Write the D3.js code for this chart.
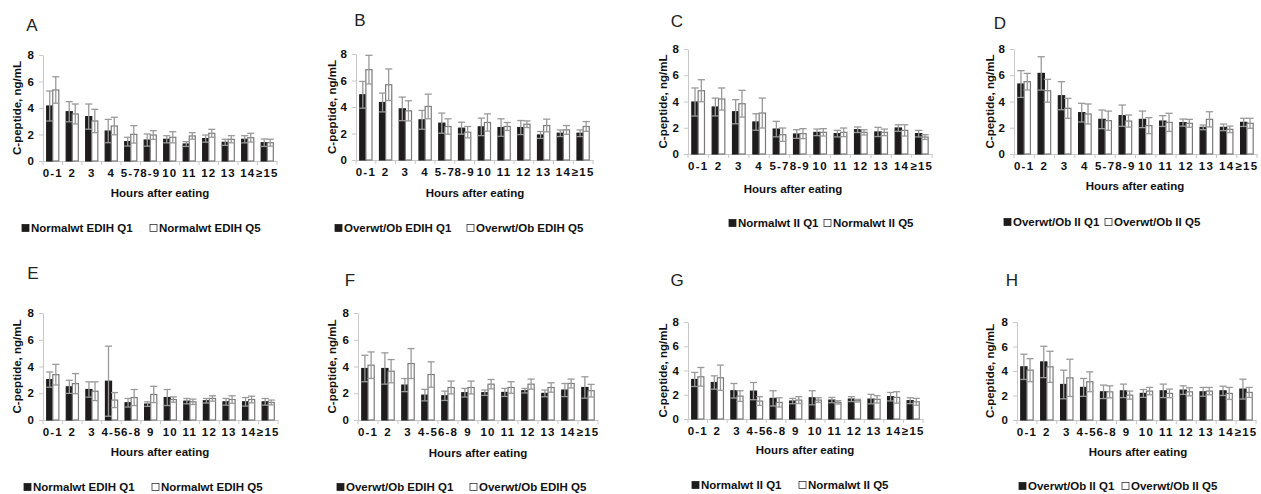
<!DOCTYPE html>
<html>
<head>
<meta charset="utf-8">
<script src="https://cdnjs.cloudflare.com/ajax/libs/d3/7.8.5/d3.min.js"></script>
<style>
  body { margin: 0; background: #fff; }
  svg { font-family: "Liberation Sans", Arial, sans-serif; }
  .tick text { font-weight: bold; font-size: 11.5px; fill: #111; }
</style>
</head>
<body>
<svg id="chart" width="1261" height="494"></svg>
<script>
// categories (top row panels A-D, bottom row panels E-H)
var catsTop = ["0-1", "2", "3", "4", "5-7", "8-9", "10", "11", "12", "13", "14", "\u226515"];
var catsBottom = ["0-1", "2", "3", "4-5", "6-8", "9", "10", "11", "12", "13", "14", "\u226515"];
var yTicks = [0, 2, 4, 6, 8];

// C-peptide means and error (ng/mL)
var aQ1 = [4.15, 3.72, 3.35, 2.26, 1.46, 1.58, 1.64, 1.28, 1.69, 1.41, 1.64, 1.38];
var aQ1e = [1.13, 0.76, 0.95, 0.88, 0.33, 0.46, 0.27, 0.18, 0.27, 0.23, 0.27, 0.28];
var aQ5 = [5.36, 3.55, 3.02, 2.64, 2.01, 1.96, 1.79, 1.89, 2.09, 1.64, 1.76, 1.38];
var aQ5e = [1.00, 0.75, 0.88, 0.66, 0.66, 0.33, 0.42, 0.25, 0.30, 0.27, 0.33, 0.26];

var bQ1 = [4.92, 4.34, 3.86, 3.03, 2.78, 2.40, 2.50, 2.45, 2.45, 1.89, 2.02, 2.02];
var bQ1e = [1.01, 0.71, 0.89, 0.71, 0.76, 0.45, 0.66, 0.66, 0.53, 0.26, 0.25, 0.25];
var bQ5 = [6.82, 5.68, 3.71, 4.04, 2.53, 2.10, 2.83, 2.53, 2.70, 2.60, 2.27, 2.53];
var bQ5e = [1.08, 1.19, 0.76, 0.93, 0.58, 0.43, 0.65, 0.30, 0.25, 0.48, 0.33, 0.37];

var cQ1 = [3.96, 3.58, 3.22, 2.44, 1.90, 1.52, 1.65, 1.55, 1.85, 1.68, 1.98, 1.55];
var cQ1e = [1.07, 0.68, 0.92, 0.63, 0.59, 0.33, 0.25, 0.25, 0.21, 0.35, 0.25, 0.25];
var cQ5 = [4.82, 4.19, 3.83, 3.12, 1.47, 1.55, 1.65, 1.65, 1.65, 1.65, 1.80, 1.29];
var cQ5e = [0.84, 0.84, 1.02, 1.14, 0.51, 0.38, 0.28, 0.33, 0.20, 0.25, 0.43, 0.18];

var dQ1 = [5.33, 6.14, 4.44, 3.15, 2.64, 2.92, 2.64, 2.51, 2.39, 2.03, 2.03, 2.41];
var dQ1e = [1.02, 1.27, 1.07, 0.71, 0.71, 0.81, 0.63, 0.41, 0.27, 0.18, 0.25, 0.31];
var dQ5 = [5.51, 4.82, 3.48, 3.05, 2.54, 2.51, 2.16, 2.41, 2.34, 2.64, 1.88, 2.34];
var dQ5e = [0.63, 0.87, 0.76, 0.76, 0.73, 0.46, 0.61, 0.69, 0.30, 0.58, 0.25, 0.38];

var eQ1 = [3.02, 2.48, 2.28, 2.90, 1.29, 1.19, 1.68, 1.41, 1.44, 1.36, 1.36, 1.36];
var eQ1e = [0.57, 0.49, 0.57, 2.62, 0.32, 0.17, 0.60, 0.20, 0.17, 0.25, 0.32, 0.25];
var eQ5 = [3.39, 2.72, 2.15, 1.49, 1.68, 1.91, 1.53, 1.36, 1.61, 1.53, 1.53, 1.31];
var eQ5e = [0.77, 0.75, 0.70, 0.56, 0.60, 0.61, 0.20, 0.20, 0.20, 0.28, 0.25, 0.18];

var fQ1 = [3.85, 3.85, 2.61, 1.86, 1.81, 2.04, 2.04, 2.06, 2.19, 1.99, 2.24, 2.43];
var fQ1e = [0.99, 1.17, 0.49, 0.43, 0.35, 0.32, 0.20, 0.30, 0.17, 0.25, 0.49, 0.80];
var fQ5 = [4.10, 3.65, 4.22, 3.40, 2.43, 2.43, 2.68, 2.43, 2.68, 2.43, 2.73, 2.19];
var fQ5e = [0.99, 0.87, 1.12, 0.95, 0.48, 0.48, 0.35, 0.43, 0.38, 0.35, 0.33, 0.47];

var gQ1 = [3.26, 3.01, 2.33, 2.30, 1.70, 1.48, 1.75, 1.56, 1.64, 1.64, 1.84, 1.51];
var gQ1e = [0.58, 0.55, 0.60, 0.71, 0.63, 0.22, 0.58, 0.22, 0.20, 0.39, 0.35, 0.24];
var gQ5 = [3.48, 3.40, 1.89, 1.48, 1.37, 1.56, 1.56, 1.37, 1.51, 1.62, 1.78, 1.42];
var gQ5e = [0.77, 1.04, 0.44, 0.36, 0.38, 0.28, 0.19, 0.14, 0.11, 0.30, 0.47, 0.28];

var hQ1 = [4.34, 4.74, 2.90, 2.66, 2.30, 2.38, 2.17, 2.38, 2.44, 2.30, 2.38, 2.52];
var hQ1e = [1.03, 1.28, 1.17, 0.73, 0.55, 0.55, 0.32, 0.55, 0.35, 0.36, 0.38, 0.81];
var hQ5 = [4.07, 4.34, 3.44, 3.12, 2.30, 2.03, 2.36, 2.17, 2.30, 2.36, 2.17, 2.25];
var hQ5e = [0.94, 1.27, 1.52, 0.81, 0.49, 0.33, 0.30, 0.35, 0.33, 0.30, 0.49, 0.41];

var legEDIHnorm = ["Normalwt EDIH Q1", "Normalwt EDIH Q5"];
var legEDIHover = ["Overwt/Ob EDIH Q1", "Overwt/Ob EDIH Q5"];
var legIInorm = ["Normalwt II Q1", "Normalwt II Q5"];
var legIIover = ["Overwt/Ob II Q1", "Overwt/Ob II Q5"];

// panel layout (page pixels)
var panels = [
  {id:"A", cats:catsTop, q1:aQ1, q1e:aQ1e, q5:aQ5, q5e:aQ5e, leg:legEDIHnorm,
   x0:43, x1:277, y0:161, y8:55, lx:32, ly:25, yt:17, xtx:160, xty:193, legY:228, l1:25, l2:153},
  {id:"B", cats:catsTop, q1:bQ1, q1e:bQ1e, q5:bQ5, q5e:bQ5e, leg:legEDIHover,
   x0:356, x1:593, y0:160, y8:54, lx:360, ly:20, yt:332, xtx:475, xty:193, legY:228, l1:338, l2:470},
  {id:"C", cats:catsTop, q1:cQ1, q1e:cQ1e, q5:cQ5, q5e:cQ5e, leg:legIInorm,
   x0:688, x1:932, y0:154, y8:49, lx:677, ly:21, yt:663, xtx:793, xty:189, legY:223, l1:732, l2:827},
  {id:"D", cats:catsTop, q1:dQ1, q1e:dQ1e, q5:dQ5, q5e:dQ5e, leg:legIIover,
   x0:1014, x1:1257, y0:154, y8:49, lx:1000, ly:23, yt:990, xtx:1135, xty:186, legY:222, l1:1007, l2:1108},
  {id:"E", cats:catsBottom, q1:eQ1, q1e:eQ1e, q5:eQ5, q5e:eQ5e, leg:legEDIHnorm,
   x0:43, x1:278, y0:420, y8:313, lx:33, ly:273, yt:17, xtx:160, xty:452, legY:487, l1:27, l2:155},
  {id:"F", cats:catsBottom, q1:fQ1, q1e:fQ1e, q5:fQ5, q5e:fQ5e, leg:legEDIHover,
   x0:358, x1:598, y0:420, y8:313, lx:350, ly:280, yt:332, xtx:478, xty:453, legY:487, l1:340, l2:473},
  {id:"G", cats:catsBottom, q1:gQ1, q1e:gQ1e, q5:gQ5, q5e:gQ5e, leg:legIInorm,
   x0:688, x1:923, y0:419, y8:322, lx:677, ly:280, yt:663, xtx:805, xty:450, legY:485, l1:695, l2:802},
  {id:"H", cats:catsBottom, q1:hQ1, q1e:hQ1e, q5:hQ5, q5e:hQ5e, leg:legIIover,
   x0:1017, x1:1256, y0:420, y8:322, lx:1012, ly:280, yt:990, xtx:1138, xty:452, legY:486, l1:1022, l2:1125}
];

var svg = d3.select("#chart");
var axisGrey = "#c8c8c8", errGrey = "#9a9a9a";

panels.forEach(function(p) {
  var g = svg.append("g");

  var x = d3.scaleBand().domain(p.cats).range([p.x0, p.x1]).paddingInner(0).paddingOuter(0);
  var xs = d3.scaleBand().domain(["q1", "q5"]).range([0, x.bandwidth()]).paddingInner(0).paddingOuter(0.61);
  var y = d3.scaleLinear().domain([0, 8]).range([p.y0, p.y8]);

  // panel letter
  g.append("text").attr("x", p.lx).attr("y", p.ly + 6)
    .attr("text-anchor", "middle").style("font-size", "17px").attr("fill", "#222")
    .text(p.id);

  // y axis
  var ya = g.append("g").attr("transform", "translate(" + p.x0 + ",0)")
    .call(d3.axisLeft(y).tickValues(yTicks).tickSize(4).tickSizeOuter(0).tickPadding(5));
  ya.select(".domain").attr("stroke", axisGrey);
  ya.selectAll(".tick line").attr("stroke", axisGrey);

  // x axis, ticks at category boundaries
  var xa = g.append("g").attr("transform", "translate(0," + p.y0 + ")")
    .call(d3.axisBottom(x).tickSize(0).tickSizeOuter(0).tickPadding(8));
  xa.select(".domain").attr("stroke", axisGrey);
  xa.selectAll(".tick text").style("letter-spacing", "1.2px");
  var bounds = p.cats.map(function(c) { return x(c); }).concat([p.x1]);
  g.append("g").selectAll("line").data(bounds).enter().append("line")
    .attr("x1", function(d) { return d; }).attr("x2", function(d) { return d; })
    .attr("y1", p.y0).attr("y2", p.y0 + 4)
    .attr("stroke", axisGrey);

  // bars
  var rows = p.cats.map(function(c, i) {
    return [{c:c, s:"q1", v:p.q1[i], e:p.q1e[i]}, {c:c, s:"q5", v:p.q5[i], e:p.q5e[i]}];
  });
  var flat = [].concat.apply([], rows);

  g.append("g").selectAll("rect").data(flat).enter().append("rect")
    .attr("x", function(d) { return x(d.c) + xs(d.s); })
    .attr("y", function(d) { return y(d.v); })
    .attr("width", xs.bandwidth())
    .attr("height", function(d) { return y(0) - y(d.v); })
    .attr("fill", function(d) { return d.s === "q1" ? "#1e1c1c" : "#fff"; })
    .attr("stroke", function(d) { return d.s === "q1" ? "#1e1c1c" : "#7a7a7a"; })
    .attr("stroke-width", 1.2);

  // error bars
  var eb = g.append("g").attr("stroke", errGrey).attr("stroke-width", 1.3).attr("fill", "none");
  flat.forEach(function(d) {
    var cx = x(d.c) + xs(d.s) + xs.bandwidth() / 2;
    var hw = xs.bandwidth() / 2 + 0.5;
    var lo = Math.max(0, d.v - d.e), hi = d.v + d.e;
    eb.append("line").attr("x1", cx).attr("x2", cx).attr("y1", y(lo)).attr("y2", y(hi));
    eb.append("line").attr("x1", cx - hw).attr("x2", cx + hw).attr("y1", y(hi)).attr("y2", y(hi));
    eb.append("line").attr("x1", cx - hw).attr("x2", cx + hw).attr("y1", y(lo)).attr("y2", y(lo));
  });

  // axis titles
  g.append("text").attr("transform", "translate(" + (p.yt + 4) + "," + ((p.y0 + p.y8) / 2) + ") rotate(-90)")
    .attr("text-anchor", "middle").style("font-size", "11.5px").style("font-weight", "bold").attr("fill", "#111")
    .text("C-peptide, ng/mL");
  g.append("text").attr("x", p.xtx).attr("y", p.xty + 4)
    .attr("text-anchor", "middle").style("font-size", "11.5px").style("font-weight", "bold").attr("fill", "#111")
    .text("Hours after eating");

  // legend
  var legX = [p.l1, p.l2];
  p.leg.forEach(function(t, i) {
    g.append("rect").attr("x", legX[i] - 3).attr("y", p.legY - 3.5).attr("width", 7).attr("height", 7)
      .attr("fill", i === 0 ? "#1e1c1c" : "#fff")
      .attr("stroke", i === 0 ? "#1e1c1c" : "#333").attr("stroke-width", 0.8);
    g.append("text").attr("x", legX[i] + 6).attr("y", p.legY + 4)
      .style("font-size", "11.5px").style("font-weight", "bold").attr("fill", "#111")
      .text(t);
  });
});
</script>
</body>
</html>
